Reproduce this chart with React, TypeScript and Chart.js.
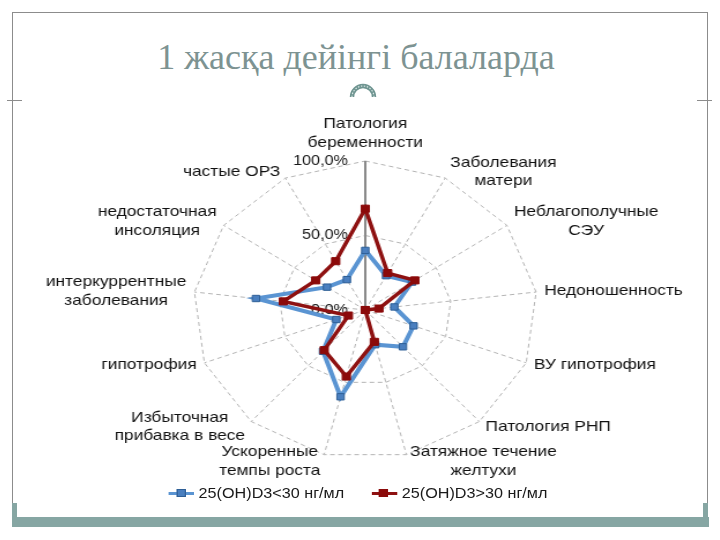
import React, { useEffect, useRef } from "react";
import { Chart, registerables } from "chart.js";

Chart.register(...registerables);

const TITLE = "1 жасқа дейінгі балаларда";

const CATEGORIES: (string | string[])[] = [
  ["Патология", "беременности"],
  ["Заболевания", "матери"],
  ["Неблагополучные", "СЭУ"],
  "Недоношенность",
  "ВУ гипотрофия",
  "Патология РНП",
  ["Затяжное течение", "желтухи"],
  ["Ускоренные", "темпы роста"],
  ["Избыточная", "прибавка в весе"],
  "гипотрофия",
  ["интеркуррентные", "заболевания"],
  ["недостаточная", "инсоляция"],
  "частые ОРЗ",
];

const SERIES_LOW_NAME = "25(OH)D3<30 нг/мл";
const SERIES_LOW = [40, 26, 33, 17, 30, 33, 24, 60, 37, 18, 64, 27, 23];

const SERIES_HIGH_NAME = "25(OH)D3>30 нг/мл";
const SERIES_HIGH = [68, 28, 35, 8, 0, 0, 22, 46, 36, 10.5, 48, 35, 37];

const TICK_MIN = 0;
const TICK_MAX = 100;
const TICK_STEP = 50;

const BLUE_LINE = "#5a94d2";
const BLUE_MARK = "#4a7fbf";
const BLUE_MARK_BORDER = "#2e5f96";
const RED_LINE = "#8e1111";
const RED_MARK = "#8b0a0a";

const STRETCH = 1.155;
const CANVAS_W = 610;
const CANVAS_H = 384;
const LABEL_SIZE = 15;
const LABEL_LH = 18.5;
const FONT_FAMILY = '"Liberation Sans", Arial, sans-serif';

const fmtTick = (v: number) => v.toFixed(1).replace(".", ",") + "%";

const tickLabelPlugin = {
  id: "leftTickLabels",
  beforeDatasetsDraw(chart: any) {
    const s = chart.scales.r;
    const ctx = chart.ctx;
    ctx.save();
    ctx.font = `14px ${FONT_FAMILY}`;
    ctx.fillStyle = "#1a1a1a";
    ctx.textAlign = "right";
    ctx.textBaseline = "middle";
    s.ticks.forEach((t: any) => {
      const d = s.getDistanceFromCenterForValue(t.value);
      ctx.fillText(fmtTick(t.value), s.xCenter - 15, s.yCenter - d);
    });
    ctx.restore();
  },
};

const centeredLabelPlugin = {
  id: "centeredPointLabels",
  afterDraw(chart: any) {
    const s = chart.scales.r;
    const ctx = chart.ctx;
    const labels = chart.data.labels as (string | string[])[];
    ctx.save();
    ctx.font = `${LABEL_SIZE}px ${FONT_FAMILY}`;
    ctx.fillStyle = "#111";
    ctx.textAlign = "center";
    ctx.textBaseline = "middle";
    labels.forEach((raw, i) => {
      const lines = Array.isArray(raw) ? raw : [raw];
      const w = Math.max(...lines.map((l) => ctx.measureText(l).width));
      const h = lines.length * LABEL_LH;
      const a = s.getIndexAngle(i);
      const sin = Math.sin(a);
      const cos = Math.cos(a);
      const p = s.getPointPosition(i, s.drawingArea);
      let cx: number;
      let cy: number;
      if (Math.abs(sin) < 0.05) {
        cx = p.x;
        cy = cos > 0 ? p.y - 9 - h / 2 : p.y + 9 + h / 2;
      } else {
        const gap = 2 + 5 * Math.abs(sin);
        cx = sin > 0 ? p.x + gap + w / 2 : p.x - gap - w / 2;
        cy = p.y - cos * 7;
      }
      lines.forEach((l, k) => ctx.fillText(l, cx, cy - h / 2 + LABEL_LH * (k + 0.5)));
    });
    ctx.restore();
  },
};

function RadarChart() {
  const ref = useRef<HTMLCanvasElement | null>(null);
  useEffect(() => {
    if (!ref.current) return;
    const chart = new Chart(ref.current, {
      type: "radar",
      data: {
        labels: CATEGORIES as any,
        datasets: [
          {
            label: SERIES_LOW_NAME,
            data: SERIES_LOW,
            borderColor: BLUE_LINE,
            borderWidth: 4,
            backgroundColor: "transparent",
            fill: false,
            pointStyle: "rect",
            pointRadius: 4.5,
            pointBackgroundColor: BLUE_MARK,
            pointBorderColor: BLUE_MARK_BORDER,
            pointBorderWidth: 1,
            order: 2,
          },
          {
            label: SERIES_HIGH_NAME,
            data: SERIES_HIGH,
            borderColor: RED_LINE,
            borderWidth: 3.5,
            backgroundColor: "transparent",
            fill: false,
            pointStyle: "rect",
            pointRadius: 5,
            pointBackgroundColor: RED_MARK,
            pointBorderColor: RED_MARK,
            pointBorderWidth: 1,
            order: 1,
          },
        ],
      },
      options: {
        animation: false,
        responsive: false,
        maintainAspectRatio: false,
        plugins: {
          legend: { display: false },
          tooltip: { enabled: false },
        },
        elements: { line: { tension: 0 } },
        scales: {
          r: {
            min: TICK_MIN,
            max: TICK_MAX,
            ticks: { stepSize: TICK_STEP, display: false },
            grid: { color: "#b4b4b4", lineWidth: 1 },
            border: { dash: [4, 3] },
            angleLines: {
              color: (c: any) => (c.index === 0 ? "#8a8a8a" : "#b4b4b4"),
              lineWidth: (c: any) => (c.index === 0 ? 2 : 1),
              borderDash: (c: any) => (c.index === 0 ? [] : [4, 3]),
            } as any,
            pointLabels: {
              color: "rgba(0,0,0,0)",
              font: { family: FONT_FAMILY, size: LABEL_SIZE, lineHeight: LABEL_LH / LABEL_SIZE },
              padding: 6,
            },
          },
        },
      },
      plugins: [tickLabelPlugin, centeredLabelPlugin],
    });
    return () => chart.destroy();
  }, []);
  return <canvas ref={ref} width={CANVAS_W} height={CANVAS_H} style={{ display: "block" }} />;
}

function LegendItem({ color, mark, markBorder, text }: { color: string; mark: string; markBorder: string; text: string }) {
  return (
    <span style={{ display: "inline-flex", alignItems: "center", margin: "0 12px" }}>
      <span style={{ position: "relative", width: 22, height: 10, display: "inline-block", marginRight: 4 }}>
        <span style={{ position: "absolute", left: 0, top: 3.5, width: 22, height: 3, background: color }} />
        <span style={{ position: "absolute", left: 6.5, top: 1, width: 8, height: 8, background: mark, boxSizing: "border-box", border: `1px solid ${markBorder}` }} />
      </span>
      <span>{text}</span>
    </span>
  );
}

export default function App() {
  const frame = "#8c8c8c";
  const bar = "#86a6a3";
  return (
    <div style={{ position: "absolute", left: 0, top: 0, width: 720, height: 540, background: "#fff", overflow: "hidden" }}>
      <div style={{ position: "absolute", left: 12, top: 12, width: 696, height: 1, background: frame }} />
      <div style={{ position: "absolute", left: 12, top: 12, width: 1, height: 506, background: frame }} />
      <div style={{ position: "absolute", left: 707, top: 12, width: 1, height: 506, background: frame }} />
      <div style={{ position: "absolute", left: 7, top: 100, width: 15, height: 1, background: frame }} />
      <div style={{ position: "absolute", left: 697, top: 100, width: 15, height: 1, background: frame }} />

      <div
        style={{
          position: "absolute",
          left: -4,
          top: 36,
          width: 720,
          textAlign: "center",
          fontFamily: '"Liberation Serif", "DejaVu Serif", serif',
          fontSize: 36,
          color: "#7d9392",
          lineHeight: "42px",
        }}
      >
        {TITLE}
      </div>

      <svg style={{ position: "absolute", left: 346, top: 78, width: 34, height: 20 }} viewBox="0 0 34 20">
        <path d="M6 19 A11 11 0 0 1 28 19" fill="none" stroke="#6f9591" strokeWidth="4.5" />
        <path d="M6 19 A11 11 0 0 1 28 19" fill="none" stroke="#d6e4e2" strokeWidth="1.2" strokeDasharray="1.5 1.5" />
      </svg>

      <div style={{ position: "absolute", left: 13, top: 116, transform: `scaleX(${STRETCH})`, transformOrigin: "0 0" }}>
        <RadarChart />
      </div>

      <div
        style={{
          position: "absolute",
          left: 0,
          top: 485,
          width: 720,
          display: "flex",
          justifyContent: "center",
        }}
      >
        <div
          style={{
            transform: `scaleX(${STRETCH})`,
            fontFamily: FONT_FAMILY,
            fontSize: 14,
            color: "#1a1a1a",
            whiteSpace: "nowrap",
            marginLeft: -4,
          }}
        >
          <LegendItem color={BLUE_LINE} mark={BLUE_MARK} markBorder={BLUE_MARK_BORDER} text={SERIES_LOW_NAME} />
          <LegendItem color={RED_LINE} mark={RED_MARK} markBorder={RED_MARK} text={SERIES_HIGH_NAME} />
        </div>
      </div>

      <div style={{ position: "absolute", left: 12, top: 517, width: 697, height: 10, background: bar }} />
      <div style={{ position: "absolute", left: 12, top: 503, width: 5, height: 24, background: bar }} />
      <div style={{ position: "absolute", left: 703, top: 503, width: 5, height: 24, background: bar }} />
    </div>
  );
}
